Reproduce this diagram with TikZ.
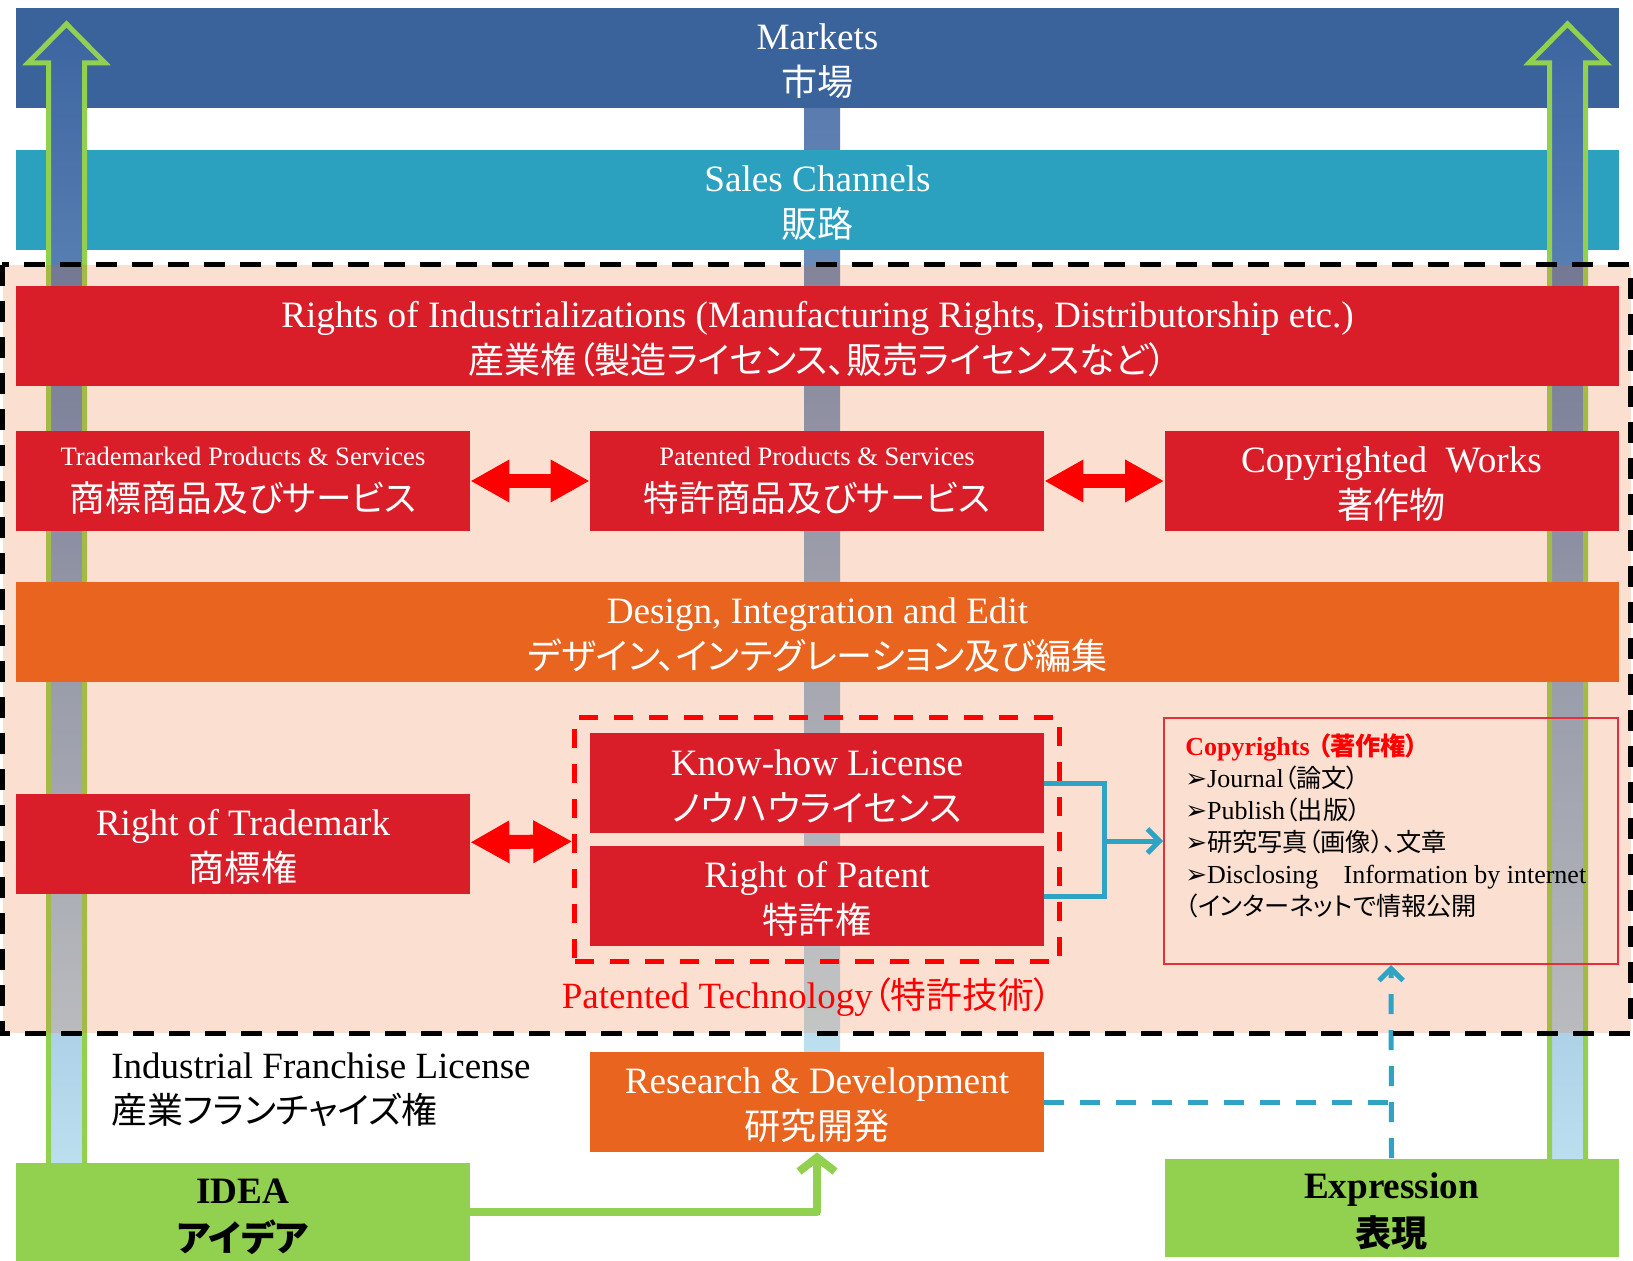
\documentclass[tikz,border=0pt]{standalone}
\usepackage{fontspec}
\setmainfont{Liberation Serif}
\newfontfamily\jp[Scale=0.97, RawFeature=+palt]{Noto Sans CJK JP}
\newfontfamily\dv{DejaVu Sans}
\usepackage{tikz}
\usetikzlibrary{%
	arrows.meta,%
	shapes,%
	positioning,% wg. " of "
	fit,%
	calc
}
\definecolor{mktblue}{RGB}{58,99,156}
\definecolor{salescyan}{RGB}{44,161,191}
\definecolor{boxred}{RGB}{218,30,41}
\definecolor{dorange}{RGB}{233,100,30}
\definecolor{ideagreen}{RGB}{146,208,80}
\definecolor{linkblue}{RGB}{46,163,195}
\definecolor{flowtop}{RGB}{60,100,160}
\definecolor{flowmid}{RGB}{169,205,229}
\definecolor{flowbot}{RGB}{189,224,240}
\definecolor{cpyred}{RGB}{228,48,58}
\newcommand{\tallstrut}{\rule{0pt}{15.8pt}}
\newcommand{\boldstrut}{\rule{0pt}{17pt}}
\tikzstyle{band} = [rectangle, inner sep=0pt, minimum width=801.5pt, minimum height=50pt, text=white, align=center, font=\fontsize{18.6}{23}\selectfont]
\tikzstyle{block} = [band, minimum width=227pt, fill=boxred]
\tikzstyle{greenbox} = [block, fill=ideagreen, text=black, font=\bfseries\fontsize{18.6}{24}\selectfont]
\tikzstyle{upflow} = [draw=ideagreen, line width=2.5pt, top color=flowtop, middle color=flowmid, bottom color=flowbot]
\tikzstyle{twoway} = [draw=red, line width=7pt, {Triangle[length=19.5pt,width=20pt]}-{Triangle[length=19.5pt,width=20pt]}]
\tikzstyle{link} = [draw=linkblue, line width=2.5pt]
\tikzstyle{linkhead} = [-{Straight Barb[length=6pt,width=12pt]}]
\tikzstyle{idealine} = [draw=ideagreen, line width=4pt, line cap=round, line join=round, -{Straight Barb[length=7pt,width=18pt]}]
\tikzstyle{zoneline} = [draw=black, line width=2.5pt, dash pattern=on 10.5pt off 7.5pt]
\tikzstyle{label} = [inner sep=0pt, align=left, font=\fontsize{18.5}{22.5}\selectfont]

\begin{document}
\begin{tikzpicture}[x=0.5pt,y=-0.5pt]
	\useasboundingbox (0,0) rectangle (1633,1261);
	
	% First we draw the stripe in the middle, behind the bands
	\shade[top color=flowtop!85!white, middle color=flowmid, bottom color=flowbot] (804,108) rectangle (840,1052);
	
	% Markets and sales channels
	\foreach \pos/\name/\col/\txt in {
		{(817.5,58)/mkt/mktblue/{\tallstrut Markets\\\jp 市場}},
		{(817.5,200)/sales/salescyan/{\tallstrut Sales Channels\\\jp 販路}}}
	\node[band, fill=\col] (\name) at \pos {\txt};
	
	% The two big arrows up to the markets
	\draw[upflow] (48.5,1170) -- (48.5,63) -- (28,63) -- (66.5,24) -- (105,63) -- (84.5,63) -- (84.5,1170) -- cycle;
	\draw[upflow] (1549.5,1170) -- (1549.5,63) -- (1529,63) -- (1567.5,24) -- (1606,63) -- (1585.5,63) -- (1585.5,1170) -- cycle;
	
	% IP zone
	\node[fill=dorange, fill opacity=0.2, inner sep=0pt, minimum width=814pt, minimum height=384pt] (ipzone) at (816.5,649) {};
	
	% Full width bands
	\foreach \pos/\name/\col/\txt in {
		{(817.5,336)/rights/boxred/{\tallstrut Rights of Industrializations (Manufacturing Rights, Distributorship etc.)\\\jp 産業権（製造ライセンス、販売ライセンスなど）}},
		{(817.5,632)/design/dorange/{\tallstrut Design, Integration and Edit\\\jp デザイン、インテグレーション及び編集}}}
	\node[band, fill=\col] (\name) at \pos {\txt};
	
	% Then we draw the boxes
	\foreach \pos/\name/\txt in {
		{(243,481)/tprod/{\fontsize{13.3}{16}\selectfont Trademarked Products \& Services\\\fontsize{18.4}{19.5}\selectfont\jp 商標商品及びサービス}},
		{(817,481)/pprod/{\fontsize{13.3}{16}\selectfont Patented Products \& Services\\\fontsize{18.4}{19.5}\selectfont\jp 特許商品及びサービス}},
		{(1391.5,481)/cwork/{\tallstrut Copyrighted\ \ Works\\\jp 著作物}},
		{(243,844)/rtm/{\tallstrut Right of Trademark\\\jp 商標権}},
		{(817,783)/knowhow/{\tallstrut Know-how License\\\jp ノウハウライセンス}},
		{(817,896)/patent/{\tallstrut Right of Patent\\\jp 特許権}}}
	\node[block] (\name) at \pos {\txt};
	
	\node[block, fill=dorange] (rd) at (817,1102) {\tallstrut Research \& Development\\\jp 研究開発};
	
	% Idea and expression
	\foreach \pos/\name/\txt in {
		{(243,1212)/idea/{\boldstrut IDEA\\\jp アイデア}},
		{(1391.5,1207.5)/expr/{\boldstrut Expression\\\jp 表現}}}
	\node[greenbox, minimum height=49pt] (\name) at \pos {\txt};
	
	% Copyrights box and its list
	\node[draw=cpyred, line width=1pt, inner sep=0pt, minimum width=227pt, minimum height=123pt] (copyb) at (1391,841) {};
	\node[inner sep=0pt, align=left, anchor=north west, font=\fontsize{13}{16}\selectfont] (cpylist) at ([xshift=11pt,yshift=-8pt]copyb.north west) {%
		{\color{red}\bfseries Copyrights\hspace{4pt}{\jp （著作権）}}\\
		{\dv ➢}Journal{\jp （論文）}\\
		{\dv ➢}Publish{\jp （出版）}\\
		{\dv ➢}{\jp 研究写真（画像）、文章}\\
		{\dv ➢}Disclosing{\jp 　}Information by internet\\
		{\jp （インターネットで情報公開}};
	
	\node[label] (ifl) at (111,1090) [anchor=west] {Industrial Franchise License\\\jp 産業フランチャイズ権};
	
	% Connect patent boxes with the copyrights
	\coordinate (hub) at (1104,841);
	\draw[link] (knowhow.east) -| (hub) |- (patent.east);
	\draw[link, linkhead] (hub) -- (copyb.west);
	\draw[link, dash pattern=on 10pt off 8pt] (rd.east) -- (rd.east -| expr.north);
	\draw[link, dash pattern=on 10pt off 8pt, linkhead] (expr.north) -- (copyb.south);
	
	% Idea goes to research
	\draw[idealine] (idea.east) -| (rd.south);
	
	% Patented technology
	\node[fit=(knowhow)(patent), inner sep=7.5pt, draw=red, line width=2.3pt, dash pattern=on 9.5pt off 8pt] (patbox) {};
	\node[label, text=red, below=7pt of patbox, xshift=-5pt] (pattech) {Patented Technology{\jp （特許技術）}};
	
	% Draw the double arrows
	\foreach \source/\dest in {tprod/pprod, pprod/cwork, rtm/patbox}
	\path[twoway] (\source) -- (\dest);
	
	\draw[zoneline] (ipzone.north west) rectangle (ipzone.south east);
	
\end{tikzpicture}
\end{document}
